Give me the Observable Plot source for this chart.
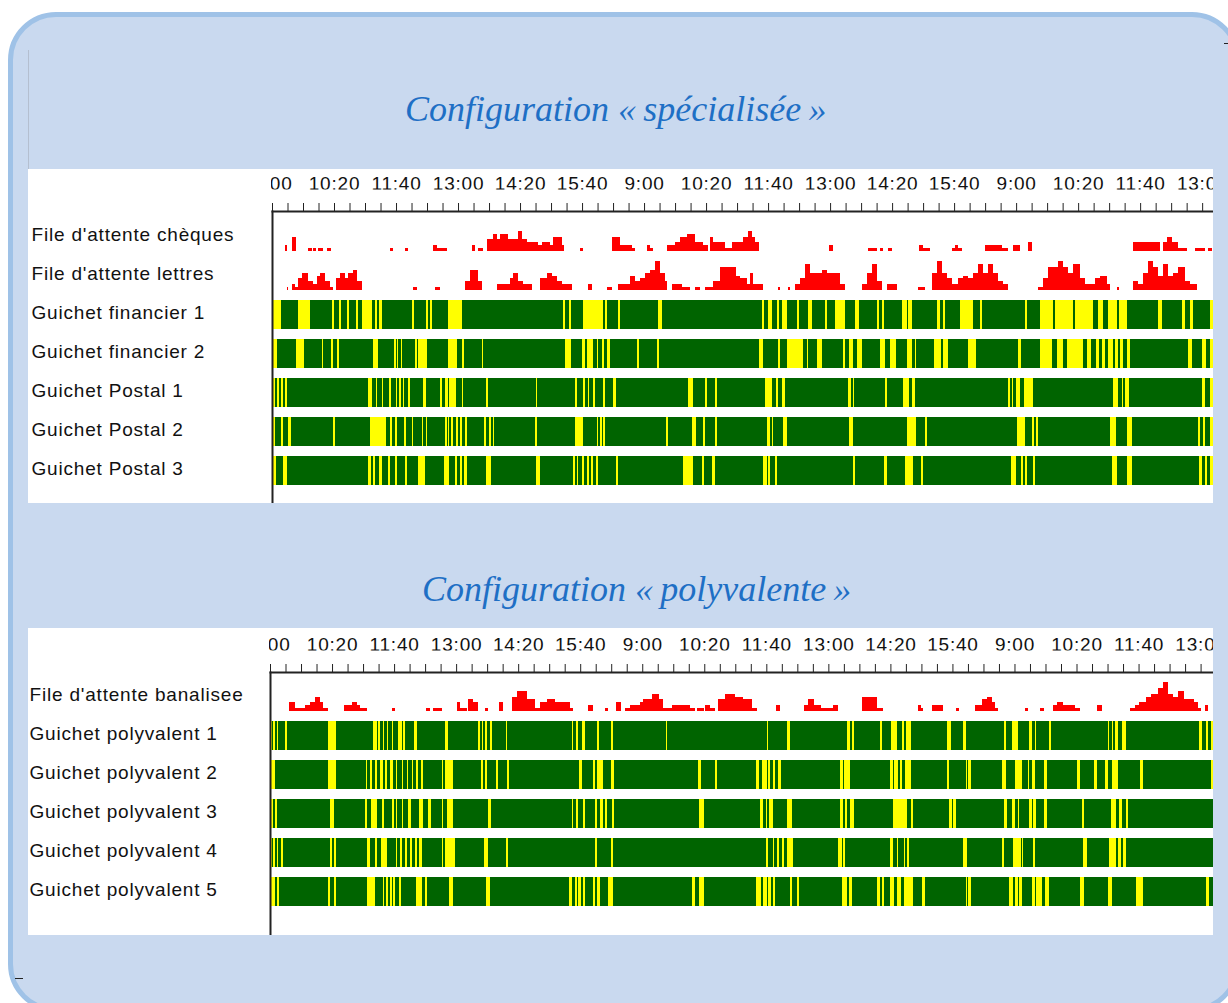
<!DOCTYPE html>
<html><head><meta charset="utf-8">
<script src="https://cdn.jsdelivr.net/npm/d3@7"></script>
<script src="https://cdn.jsdelivr.net/npm/@observablehq/plot@0.6"></script>
<style>
html,body{margin:0;padding:0;background:#fff;}
body{width:1228px;height:1003px;position:relative;overflow:hidden;font-family:"Liberation Sans",Arial,sans-serif;}
#frame{position:absolute;left:8px;top:12px;width:1232px;height:1000px;box-sizing:border-box;border:5px solid #9fc2e7;border-radius:48px;background:#c9d9ef;}
.title{position:absolute;font-family:"Liberation Serif","Times New Roman",serif;font-style:italic;font-size:36px;line-height:40px;color:#1e6fc5;white-space:nowrap;}
.panel{position:absolute;left:28px;width:1185px;background:#fff;overflow:hidden;}
.panel svg{display:block;}
#vline{position:absolute;left:28px;top:50px;width:1px;height:119px;background:#b4bfd0;}
.dash{position:absolute;height:1px;background:#222;}
</style></head><body>
<div id="frame"></div>
<div id="vline"></div>
<div class="dash" style="left:1224px;top:43px;width:4px"></div>
<div class="dash" style="left:15px;top:978px;width:8px"></div>
<div class="title" id="t1" style="left:405px;top:89px">Configuration «&thinsp;spécialisée&thinsp;»</div>
<div class="panel" id="p1" style="top:169px;height:334px"></div>
<div class="title" id="t2" style="left:422px;top:569px">Configuration «&thinsp;polyvalente&thinsp;»</div>
<div class="panel" id="p2" style="top:628px;height:307px"></div>
<script>
// ---------- axis ----------
const tickLabels = ["9:00","10:20","11:40","13:00","14:20","15:40","9:00","10:20","11:40","13:00","14:20","15:40","9:00","10:20","11:40","13:00"];
const labelStep = 80;   // minutes between labelled ticks
const tickStep = 20;    // minutes between ticks

// ---------- panel 1 : configuration spécialisée ----------
const rowsSpec = ["File d'attente chèques","File d'attente lettres","Guichet financier 1","Guichet financier 2","Guichet Postal 1","Guichet Postal 2","Guichet Postal 3"];
const spanSpec = 1214; // minutes shown

// queue length segments [start min, end min, people]
const chequesQueue = [[17,19,2],[26,31,5],[46,52,1],[53,57,1],[59,66,1],[71,76,1],[152,156,1],[172,175,1],[208,213,2],[213,226,1],[258,262,2],[266,272,1],[277,285,4],[285,290,6],[290,294,4],[294,304,6],[304,317,4],[317,323,7],[323,329,4],[329,343,3],[343,348,2],[348,359,3],[359,363,2],[363,369,5],[369,374,5],[374,377,2],[397,401,1],[439,449,5],[449,453,2],[453,464,2],[464,468,1],[484,488,2],[488,492,1],[510,520,2],[520,526,3],[526,535,5],[535,546,6],[546,556,3],[556,562,2],[565,569,5],[569,575,3],[575,584,3],[584,593,1],[593,604,3],[604,608,3],[608,614,5],[614,619,7],[619,623,5],[623,628,3],[719,724,2],[769,780,1],[784,788,1],[795,800,1],[835,840,2],[840,849,1],[877,881,1],[881,885,2],[885,890,1],[920,942,2],[942,949,1],[956,965,2],[975,980,3],[1111,1146,3],[1149,1155,3],[1155,1161,5],[1161,1169,3],[1169,1180,1],[1191,1204,1],[1207,1213,1]];
const lettresQueue = [[19,21,1],[26,30,2],[30,34,1],[34,39,4],[39,46,6],[46,53,3],[53,58,2],[58,62,5],[62,68,6],[68,75,3],[75,79,1],[83,88,4],[88,94,6],[94,98,4],[98,104,6],[104,110,7],[110,116,3],[182,187,1],[210,217,1],[249,255,3],[255,266,7],[266,271,3],[290,307,2],[307,311,4],[311,317,6],[317,324,3],[324,335,2],[346,355,4],[355,361,6],[361,368,5],[368,374,3],[374,387,2],[408,413,2],[432,439,1],[446,462,2],[462,468,5],[468,475,3],[475,481,4],[481,488,6],[488,494,7],[494,501,10],[501,507,6],[507,510,3],[516,529,2],[529,539,1],[546,552,1],[559,569,1],[569,578,3],[578,587,8],[587,598,8],[598,604,5],[604,613,4],[613,617,2],[617,621,6],[621,634,2],[653,655,1],[666,668,1],[675,681,2],[681,688,4],[688,694,9],[694,701,6],[701,710,6],[710,716,7],[716,724,6],[724,733,6],[733,739,2],[761,768,2],[768,774,6],[774,780,9],[780,787,3],[793,806,2],[833,842,1],[851,858,6],[858,864,10],[864,871,6],[871,877,4],[877,885,2],[885,892,4],[892,898,5],[898,904,4],[904,911,6],[911,917,9],[917,924,6],[924,930,9],[930,937,6],[937,943,3],[943,949,2],[988,995,1],[995,1001,4],[1001,1014,8],[1014,1021,10],[1021,1027,8],[1027,1034,6],[1034,1042,9],[1042,1049,4],[1049,1053,2],[1053,1062,2],[1062,1068,4],[1068,1077,5],[1077,1081,2],[1090,1093,1],[1111,1117,3],[1117,1124,2],[1124,1130,6],[1130,1137,10],[1137,1143,8],[1143,1149,5],[1149,1156,9],[1156,1162,5],[1162,1169,6],[1169,1178,8],[1178,1184,3],[1184,1193,2]];

// idle (yellow) intervals [start min, end min]; counters are busy (green) otherwise
const financier1Idle = [[0,12],[34,49],[77,80],[86,89],[97,99],[108,111],[116,129],[133,135],[138,142],[181,183],[199,201],[204,206],[227,245],[375,378],[383,386],[401,427],[430,432],[446,449],[498,503],[632,635],[640,645],[651,654],[658,664],[677,680],[691,697],[713,716],[726,739],[752,757],[780,783],[787,789],[813,819],[820,826],[858,862],[866,868],[888,904],[913,916],[971,974],[991,1007],[1010,1033],[1036,1059],[1066,1072],[1078,1090],[1093,1103],[1143,1148],[1174,1178],[1184,1188],[1210,1214]];
const financier2Idle = [[1,6],[31,41],[64,66],[76,79],[84,86],[130,137],[157,160],[161,163],[166,168],[184,187],[188,200],[227,239],[245,248],[271,272],[378,386],[400,404],[406,414],[419,421],[426,428],[432,436],[471,473],[497,499],[628,633],[653,655],[664,685],[690,691],[703,710],[737,739],[744,749],[755,761],[784,791],[797,805],[819,826],[829,831],[854,863],[866,872],[898,908],[962,966],[991,1006],[1013,1020],[1026,1046],[1051,1057],[1063,1067],[1071,1075],[1078,1085],[1087,1091],[1094,1098],[1103,1107],[1182,1187],[1200,1205],[1210,1214]];
const postal1Idle = [[1,4],[6,9],[12,14],[17,19],[124,129],[134,135],[142,143],[151,154],[160,161],[164,166],[169,170],[175,178],[195,199],[217,219],[223,227],[228,237],[245,246],[276,279],[341,342],[391,393],[401,404],[408,409],[414,417],[427,430],[440,444],[537,543],[559,561],[571,574],[636,645],[650,653],[658,662],[743,747],[750,751],[791,793],[814,822],[826,829],[949,952],[955,956],[960,965],[970,982],[1085,1091],[1097,1098],[1100,1106],[1200,1204],[1210,1214]];
const postal2Idle = [[1,4],[12,14],[21,25],[79,81],[126,147],[152,155],[159,161],[170,173],[181,182],[194,195],[199,200],[223,226],[227,228],[231,233],[237,240],[243,245],[249,252],[273,276],[280,283],[285,286],[339,342],[391,401],[419,421],[423,426],[427,430],[508,511],[542,547],[556,559],[571,574],[639,642],[645,646],[659,664],[744,749],[819,831],[842,845],[961,971],[980,983],[986,988],[1081,1089],[1103,1109],[1195,1197],[1201,1204],[1210,1214]];
const postal3Idle = [[1,5],[14,19],[124,128],[130,133],[138,142],[150,152],[159,161],[172,174],[188,197],[222,228],[236,239],[243,245],[248,252],[276,283],[341,346],[388,391],[393,395],[400,402],[406,409],[411,414],[418,421],[444,446],[530,543],[555,557],[568,571],[633,639],[640,642],[649,651],[750,752],[789,793],[817,827],[837,840],[953,960],[966,969],[971,974],[982,984],[1084,1090],[1103,1109],[1196,1200],[1204,1206],[1210,1214]];

// ---------- panel 2 : configuration polyvalente ----------
const rowsPoly = ["File d'attente banalisee","Guichet polyvalent 1","Guichet polyvalent 2","Guichet polyvalent 3","Guichet polyvalent 4","Guichet polyvalent 5"];
const spanPoly = 1216;
const banaliseeQueue = [[25,32,3],[32,45,1],[45,52,2],[52,58,3],[58,65,5],[65,68,3],[68,75,1],[95,106,2],[106,112,3],[112,116,2],[116,125,1],[157,161,1],[201,206,1],[210,222,1],[241,245,3],[245,254,1],[255,262,4],[262,268,3],[277,281,1],[295,301,3],[312,319,5],[319,332,7],[332,342,4],[342,348,1],[348,357,3],[357,367,4],[367,387,3],[387,391,1],[410,417,2],[432,436,1],[446,452,3],[458,464,1],[464,477,2],[477,481,3],[481,493,4],[493,501,6],[501,507,4],[507,519,1],[519,542,2],[542,548,1],[551,559,1],[561,568,2],[568,574,1],[578,587,4],[587,600,6],[600,610,5],[610,622,4],[622,628,1],[653,658,2],[688,694,2],[694,701,4],[701,710,2],[710,726,1],[726,733,2],[764,783,5],[783,790,1],[835,839,2],[839,842,1],[854,868,2],[884,889,1],[909,918,2],[918,925,4],[925,931,5],[931,935,3],[935,939,1],[974,978,1],[993,998,1],[1010,1015,2],[1015,1023,3],[1023,1038,2],[1038,1044,1],[1066,1073,2],[1109,1116,1],[1116,1120,2],[1120,1130,3],[1130,1136,5],[1136,1145,6],[1145,1152,8],[1152,1158,10],[1158,1165,6],[1165,1171,5],[1171,1178,7],[1178,1184,4],[1184,1191,4],[1191,1197,3],[1197,1201,1],[1206,1210,2]];
const poly1Idle = [[0,3],[4,6],[9,10],[19,22],[75,85],[133,138],[139,142],[146,147],[151,152],[157,159],[165,170],[172,174],[186,190],[226,230],[268,271],[273,275],[277,280],[284,286],[304,306],[390,391],[395,397],[402,406],[422,424],[440,442],[510,512],[641,642],[667,670],[744,748],[751,753],[787,789],[801,809],[815,817],[820,826],[873,878],[894,897],[946,949],[957,964],[979,983],[986,988],[1004,1007],[1080,1082],[1086,1087],[1090,1093],[1099,1104],[1198,1202],[1207,1210],[1213,1216]];
const poly2Idle = [[0,6],[75,85],[124,125],[129,132],[135,138],[142,146],[148,151],[155,159],[163,164],[170,172],[177,178],[183,184],[188,191],[195,197],[222,223],[226,236],[272,275],[277,280],[292,294],[306,308],[399,402],[417,419],[422,430],[440,444],[552,556],[574,577],[627,631],[635,641],[642,645],[649,651],[655,659],[735,739],[740,748],[799,804],[805,810],[813,815],[819,826],[873,876],[897,899],[900,904],[944,949],[961,970],[977,979],[983,986],[998,1002],[1041,1045],[1062,1066],[1077,1081],[1086,1093],[1122,1126],[1213,1216]];
const poly3Idle = [[0,4],[6,9],[77,83],[123,125],[130,138],[144,147],[157,160],[163,164],[170,172],[178,182],[192,197],[204,208],[222,223],[228,236],[281,285],[390,391],[395,397],[404,406],[419,422],[426,430],[432,435],[441,444],[553,559],[632,636],[639,641],[644,648],[667,673],[735,739],[742,744],[748,753],[804,822],[826,829],[876,880],[881,885],[946,951],[957,961],[964,966],[979,983],[984,988],[998,1002],[1047,1050],[1085,1091],[1095,1099],[1104,1107]];
const poly4Idle = [[0,3],[4,6],[9,10],[14,17],[77,80],[83,85],[125,129],[135,138],[143,151],[163,164],[168,170],[174,177],[181,183],[187,190],[192,196],[222,223],[226,239],[276,281],[304,307],[419,422],[440,442],[640,642],[648,650],[654,657],[660,663],[667,675],[733,737],[739,742],[800,804],[809,810],[817,819],[822,824],[894,899],[944,947],[958,968],[970,971],[984,987],[1049,1053],[1082,1091],[1094,1098],[1100,1104]];
const poly5Idle = [[0,6],[9,12],[75,77],[83,85],[125,135],[146,147],[150,152],[155,157],[159,161],[166,169],[188,196],[200,203],[231,236],[279,284],[386,390],[393,396],[397,401],[404,406],[417,419],[422,426],[436,442],[544,548],[553,559],[627,633],[636,641],[642,646],[649,651],[670,673],[680,682],[738,744],[747,751],[783,787],[789,792],[799,805],[809,814],[817,829],[841,844],[897,899],[900,904],[953,958],[961,965],[966,970],[983,986],[988,991],[992,996],[1000,1004],[1045,1050],[1081,1086],[1117,1120],[1121,1126],[1207,1211]];

// ---------- drawing ----------
const BUSY = "#006400", IDLE = "#ffff00", QUEUE = "#ff0000";
function drawPanel({rows, queues, idle, span, marginLeft, marginTop, height, baseTop, labelDx}) {
  const ROW = 13.45, BAR = 10, n = rows.length;
  const base = r => (n - 1 - rows.indexOf(r)) * ROW;
  const queueData = queues.flatMap(([row, arr]) => arr.map(([a, b, v]) => ({row, a, b, v})));
  const idleData = idle.flatMap(([row, arr]) => arr.map(([a, b]) => ({row, a, b})));
  const busyData = idle.map(([row]) => ({row, a: 0, b: span}));
  const labelTicks = d3.range(tickLabels.length).map(i => i * labelStep).filter(v => v <= span);
  const svg = Plot.plot({
    width: 1185, height, marginLeft, marginRight: 0, marginTop, marginBottom: 0,
    x: {domain: [0, span], axis: null},
    y: {domain: [0, (n - 1) * ROW], range: [baseTop + (n - 1) * 39, baseTop], axis: null},
    style: {fontFamily: "'Liberation Sans', Arial, sans-serif", fontSize: "19px", letterSpacing: "0.8px", background: "transparent", color: "#111"},
    marks: [
      Plot.rect(busyData, {x1: "a", x2: "b", y1: d => base(d.row), y2: d => base(d.row) + BAR, fill: BUSY, shapeRendering: "crispEdges"}),
      Plot.rect(idleData, {x1: "a", x2: "b", y1: d => base(d.row), y2: d => base(d.row) + BAR, fill: IDLE, shapeRendering: "crispEdges"}),
      Plot.rect(queueData, {x1: "a", x2: "b", y1: d => base(d.row), y2: d => base(d.row) + d.v, fill: QUEUE, shapeRendering: "crispEdges"}),
      Plot.text(rows, {frameAnchor: "left", y: d => base(d) + 5, text: d => d, textAnchor: "start", dx: labelDx, dy: -2, fill: "#111", fontSize: 19}),
      Plot.axisX(d3.range(0, span + 1, tickStep), {anchor: "top", tickSize: 9, tickFormat: () => "", stroke: "#222"}),
      Plot.axisX(labelTicks, {anchor: "top", tickSize: 0, tickPadding: 22, tickFormat: d => tickLabels[d / labelStep], fontSize: 19, fill: "#111"}),
      Plot.frame({anchor: "top", stroke: "#222", strokeWidth: 2}),
      Plot.frame({anchor: "left", stroke: "#222", strokeWidth: 2})
    ]
  });
  // clip tick labels to the time area (left label column hides part of the first label)
  const s = d3.select(svg);
  const id = "clip" + Math.random().toString(36).slice(2);
  s.append("defs").append("clipPath").attr("id", id).append("rect")
    .attr("x", marginLeft - 1.5).attr("y", 0).attr("width", 1185 - marginLeft + 1.5).attr("height", marginTop);
  s.selectAll("g[aria-label='x-axis tick label']").attr("clip-path", `url(#${id})`);
  return svg;
}

document.getElementById("p1").appendChild(drawPanel({
  rows: rowsSpec,
  queues: [[rowsSpec[0], chequesQueue], [rowsSpec[1], lettresQueue]],
  idle: [[rowsSpec[2], financier1Idle], [rowsSpec[3], financier2Idle], [rowsSpec[4], postal1Idle], [rowsSpec[5], postal2Idle], [rowsSpec[6], postal3Idle]],
  span: spanSpec, marginLeft: 244, marginTop: 42, height: 334, baseTop: 82, labelDx: -241
}));
document.getElementById("p2").appendChild(drawPanel({
  rows: rowsPoly,
  queues: [[rowsPoly[0], banaliseeQueue]],
  idle: [[rowsPoly[1], poly1Idle], [rowsPoly[2], poly2Idle], [rowsPoly[3], poly3Idle], [rowsPoly[4], poly4Idle], [rowsPoly[5], poly5Idle]],
  span: spanPoly, marginLeft: 242, marginTop: 44, height: 307, baseTop: 83, labelDx: -241
}));
</script>
</body></html>
